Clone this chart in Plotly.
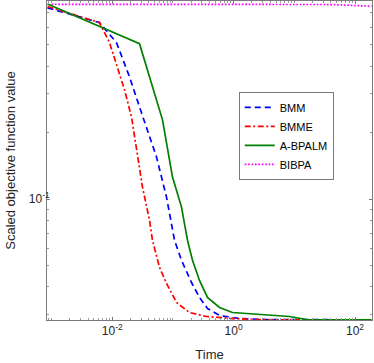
import plotly.graph_objects as go

# ---- data ----
bmm_t = [8.59e-4, 6.18e-3, 0.01177, 0.01928, 0.03039, 0.0537, 0.0785, 0.1063, 0.1386,
         0.2025, 0.2742, 0.3715, 0.5857, 1.251, 3.48, 187]
bmm_f = [0.7357, 0.631, 0.5118, 0.3584, 0.246, 0.1552, 0.1021, 0.0651, 0.0528,
         0.0419, 0.03585, 0.03195, 0.0297, 0.02877, 0.02847, 0.02838]

bmme_t = [8.59e-4, 6.18e-3, 9.03e-3, 0.01223, 0.01595, 0.0208, 0.03155, 0.04116, 0.04613,
          0.0601, 0.0785, 0.1147, 0.1877, 0.3577, 0.9592, 3.48, 187]
bmme_f = [0.7458, 0.631, 0.5118, 0.398, 0.313, 0.2359, 0.1134, 0.0803, 0.0651,
          0.0491, 0.0415, 0.0340, 0.03064, 0.02938, 0.02877, 0.02838, 0.02838]

abpalm_t = [8.59e-4, 6.18e-3, 0.02817, 0.0674, 0.0985, 0.1386, 0.174, 0.2103, 0.2742,
            0.3715, 0.5857, 0.9592, 3.48, 8.34, 15.9, 42.6, 187]
abpalm_f = [0.7656, 0.6049, 0.5064, 0.2286, 0.1259, 0.0920, 0.0651, 0.0528, 0.0428,
            0.03585, 0.0323, 0.03064, 0.03001, 0.02938, 0.02847, 0.02835, 0.02835]

bibpa_t = [1e-3, 42.6, 187]
bibpa_f = [0.7636, 0.7616, 0.748]

x_major = [1e-2, 1e0, 1e2]
x_major_text = ["10<sup>-2</sup>", "10<sup>0</sup>", "10<sup>2</sup>"]
y_major = [0.1]
y_major_text = ["10<sup>-1</sup>"]

x_minor = [m * 10.0 ** k for k in range(-4, 3) for m in range(1, 10)
           if m * 10.0 ** k not in x_major]
y_minor = [m * 10.0 ** k for k in range(-2, 1) for m in range(1, 10)
           if m * 10.0 ** k not in y_major]

fig = go.Figure()
fig.add_trace(go.Scatter(x=bmm_t, y=bmm_f, mode="lines", name="BMM",
                         line=dict(color="#0000ff", width=1.7, dash="6px,4px")))
fig.add_trace(go.Scatter(x=bmme_t, y=bmme_f, mode="lines", name="BMME",
                         line=dict(color="#ff0000", width=1.7, dash="6px,2.5px,2px,2.5px")))
fig.add_trace(go.Scatter(x=abpalm_t, y=abpalm_f, mode="lines", name="A-BPALM",
                         line=dict(color="#007f00", width=1.7)))
fig.add_trace(go.Scatter(x=bibpa_t, y=bibpa_f, mode="lines", name="BIBPA",
                         line=dict(color="#ff00ff", width=1.7, dash="1.7px,1.7px")))

axis_common = dict(
    type="log", showgrid=False, zeroline=False, automargin=False,
    showline=True, linecolor="#7a7a7a", linewidth=1, mirror="ticks",
    ticks="inside", ticklen=3, tickcolor="#7a7a7a", tickwidth=1,
    tickfont=dict(family="Liberation Sans, Arial", size=12, color="#262626"),
    minor=dict(ticks="inside", ticklen=2, tickcolor="#9a9a9a", tickwidth=1),
)

fig.update_layout(
    width=374, height=363,
    margin=dict(l=47, r=2, t=1, b=43),
    paper_bgcolor="white", plot_bgcolor="white",
    font=dict(family="Liberation Sans, Arial", color="#262626"),
    xaxis=dict(**axis_common, range=[-3.074, 2.280],
               tickmode="array", tickvals=x_major, ticktext=x_major_text,
               title=dict(text="Time", font=dict(size=13, color="#262626"), standoff=12)),
    yaxis=dict(**axis_common, range=[-1.5477, -0.1023],
               tickmode="array", tickvals=y_major, ticktext=y_major_text,
               ticklabelstandoff=-6,
               title=dict(text="Scaled objective function value",
                          font=dict(size=13, color="#262626"), standoff=10)),
    legend=dict(x=0.59, y=0.715, xanchor="left", yanchor="top",
                bgcolor="white", bordercolor="#7a7a7a", borderwidth=1,
                font=dict(family="Liberation Sans, Arial", size=11, color="#000"),
                tracegroupgap=0, itemwidth=30),
    showlegend=True,
)
fig.update_xaxes(minor=dict(tickmode="array", tickvals=x_minor))
fig.update_yaxes(minor=dict(tickmode="array", tickvals=y_minor))

fig.write_html("out.html", config={"displayModeBar": False},
               post_script="document.body.style.margin='0px';")
